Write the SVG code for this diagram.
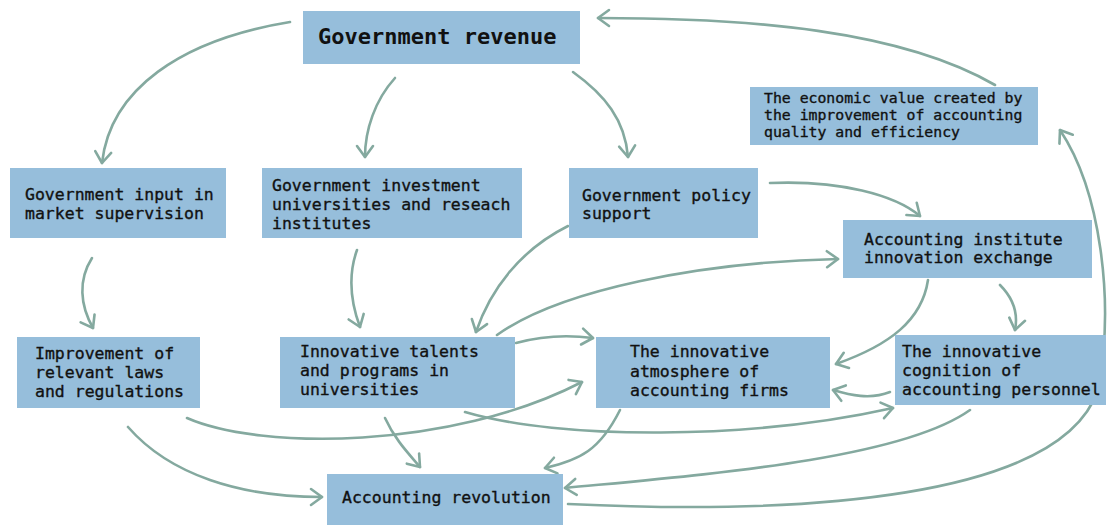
<svg xmlns="http://www.w3.org/2000/svg" width="1108" height="525" viewBox="0 0 1108 525">
  <style>
    .box { fill: #96bedb; }
    .t { font-family: "DejaVu Sans Mono", "Liberation Mono", monospace; font-size: 16.5px; fill: #111; stroke: #111; stroke-width: 0.35; }
    .s { font-size: 14.8px; }
    .big { font-size: 22px; font-weight: bold; stroke-width: 0; }
    .c { fill: none; stroke: #84a99f; stroke-width: 2.6; stroke-linecap: round; marker-end: url(#arr); }
  </style>
  <defs>
    <marker id="arr" markerUnits="userSpaceOnUse" markerWidth="24" markerHeight="24" refX="0" refY="0" viewBox="-14 -12 18 24" orient="auto">
      <path d="M-11,-8 L0,0 L-11,8" fill="none" stroke="#84a99f" stroke-width="2.6" stroke-linejoin="round" stroke-linecap="round"/>
    </marker>
  </defs>
  <rect width="1108" height="525" fill="#ffffff"/>

  <g id="connectors">
    <path class="c" d="M290,22 C180,40 110,90 102,163"/>
    <path class="c" d="M395,78 C375,100 365,130 365,157"/>
    <path class="c" d="M573,72 C605,95 625,120 628,157"/>
    <path class="c" d="M995,85 C900,30 750,18 598,18"/>
    <path class="c" d="M92,258 C78,280 80,305 93,328"/>
    <path class="c" d="M357,250 C348,275 350,300 360,327"/>
    <path class="c" d="M568,226 C520,250 490,290 476,332"/>
    <path class="c" d="M770,183 C840,180 895,195 920,216"/>
    <path class="c" d="M497,335 C560,290 700,262 838,259"/>
    <path class="c" d="M516,343 C545,335 570,335 593,338"/>
    <path class="c" d="M187,418 C260,450 450,450 582,382"/>
    <path class="c" d="M465,412 C560,440 750,440 893,408"/>
    <path class="c" d="M128,427 C170,475 240,497 322,497"/>
    <path class="c" d="M385,418 C395,440 410,455 420,467"/>
    <path class="c" d="M620,410 C600,450 580,460 545,468"/>
    <path class="c" d="M970,410 C900,460 700,475 565,488"/>
    <path class="c" d="M568,504 C800,515 1060,500 1098,390 C1115,300 1100,190 1060,130"/>
    <path class="c" d="M928,280 C922,320 890,345 836,364"/>
    <path class="c" d="M1000,285 C1015,300 1018,315 1015,330"/>
    <path class="c" d="M890,392 C870,400 850,395 833,390"/>
  </g>

  <g id="gov-revenue">
    <rect class="box" x="303" y="11" width="277" height="53"/>
    <text class="t big" x="318" y="44">Government revenue</text>
  </g>
  <g id="gov-input">
    <rect class="box" x="10" y="168" width="216" height="70"/>
    <text class="t" x="25" y="200">Government input in</text>
    <text class="t" x="25" y="219">market supervision</text>
  </g>
  <g id="gov-investment">
    <rect class="box" x="262" y="168" width="260" height="70"/>
    <text class="t" x="272" y="191">Government investment</text>
    <text class="t" x="272" y="210">universities and reseach</text>
    <text class="t" x="272" y="229">institutes</text>
  </g>
  <g id="gov-policy">
    <rect class="box" x="569" y="168" width="189" height="70"/>
    <text class="t" x="582" y="201">Government policy</text>
    <text class="t" x="582" y="219">support</text>
  </g>
  <g id="economic-value">
    <rect class="box" x="750" y="87" width="288" height="58"/>
    <text class="t s" x="764" y="103">The economic value created by</text>
    <text class="t s" x="764" y="120">the improvement of accounting</text>
    <text class="t s" x="764" y="137">quality and efficiency</text>
  </g>
  <g id="institute-exchange">
    <rect class="box" x="843" y="220" width="249" height="58"/>
    <text class="t" x="864" y="245">Accounting institute</text>
    <text class="t" x="864" y="263">innovation exchange</text>
  </g>
  <g id="laws">
    <rect class="box" x="17" y="337" width="183" height="71"/>
    <text class="t" x="35" y="359">Improvement of</text>
    <text class="t" x="35" y="378">relevant laws</text>
    <text class="t" x="35" y="397">and regulations</text>
  </g>
  <g id="talents">
    <rect class="box" x="280" y="337" width="235" height="71"/>
    <text class="t" x="300" y="357">Innovative talents</text>
    <text class="t" x="300" y="376">and programs in</text>
    <text class="t" x="300" y="395">universities</text>
  </g>
  <g id="atmosphere">
    <rect class="box" x="596" y="337" width="234" height="71"/>
    <text class="t" x="630" y="357">The innovative</text>
    <text class="t" x="630" y="377">atmosphere of</text>
    <text class="t" x="630" y="396">accounting firms</text>
  </g>
  <g id="cognition">
    <rect class="box" x="895" y="335" width="211" height="70"/>
    <text class="t" x="902" y="357">The innovative</text>
    <text class="t" x="902" y="376">cognition of</text>
    <text class="t" x="902" y="395">accounting personnel</text>
  </g>
  <g id="revolution">
    <rect class="box" x="327" y="474" width="236" height="51"/>
    <text class="t" x="342" y="503">Accounting revolution</text>
  </g>
</svg>
